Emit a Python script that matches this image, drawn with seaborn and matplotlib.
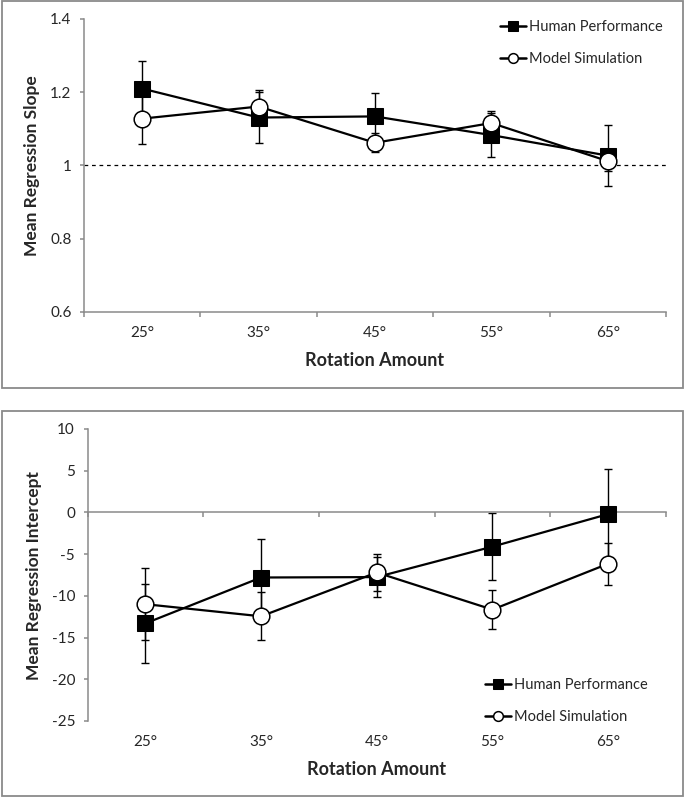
import numpy as np
import matplotlib.pyplot as plt
import seaborn as sns
from matplotlib.patches import Rectangle
from matplotlib.ticker import FuncFormatter

# data
rotations = ["25°", "35°", "45°", "55°", "65°"]

slope_human = [1.21, 1.131, 1.134, 1.083, 1.027]
slope_human_err = [0.074, 0.07, 0.063, 0.06, 0.083]
slope_model = [1.128, 1.161, 1.062, 1.116, 1.012]
slope_model_err = [0.068, 0.046, 0.026, 0.032, 0.028]

icpt_human = [-13.3, -7.8, -7.75, -4.1, -0.2]
icpt_human_err = [4.7, 4.65, 2.4, 4.0, 5.4]
icpt_model = [-11.0, -12.45, -7.2, -11.65, -6.15]
icpt_model_err = [4.3, 2.9, 2.2, 2.3, 2.5]

sns.set_style("white")
plt.rcParams['font.family'] = ['Lato', 'DejaVu Sans']
plt.rcParams['axes.unicode_minus'] = False

GRAY = '#8a8a8a'
W, H = 685, 799

fig = plt.figure(figsize=(W / 100, H / 100), dpi=100)

# panel frames
for top, bot in [(1.5, 388), (411, 796)]:
    fig.add_artist(Rectangle((1.5 / W, 1 - bot / H), (683 - 1.5) / W, (bot - top) / H,
                             transform=fig.transFigure, fill=False,
                             edgecolor=GRAY, lw=1.3))


def panel(ax, human, human_err, model, model_err, ylim, yticks, ylabel, zero_axis):
    x = np.arange(len(rotations))
    ax.errorbar(x, human, yerr=human_err, fmt='none', ecolor='black',
                elinewidth=1, capsize=3, capthick=1, zorder=1)
    ax.errorbar(x, model, yerr=model_err, fmt='none', ecolor='black',
                elinewidth=1, capsize=3, capthick=1, zorder=1)
    sns.lineplot(x=x, y=human, ax=ax, color='black', linewidth=1.6,
                 marker='s', markersize=11.5, markerfacecolor='black',
                 markeredgecolor='black', label='Human Performance', zorder=3)
    sns.lineplot(x=x, y=model, ax=ax, color='black', linewidth=1.6,
                 marker='o', markersize=12, markerfacecolor='white',
                 markeredgecolor='black', markeredgewidth=1.1,
                 label='Model Simulation', zorder=4)

    ax.set_xlim(-0.5, len(rotations) - 0.5)
    ax.set_ylim(*ylim)
    ax.set_yticks(yticks)
    ax.yaxis.set_major_formatter(FuncFormatter(lambda v, p: f'{v:g}'))
    ax.tick_params(axis='y', length=3, width=1.1, color=GRAY, pad=6,
                   labelsize=11, direction='out', left=True)

    for s in ['top', 'right']:
        ax.spines[s].set_visible(False)
    ax.spines['left'].set_color(GRAY)
    ax.spines['left'].set_linewidth(1.1)
    ax.spines['bottom'].set_color(GRAY)
    ax.spines['bottom'].set_linewidth(1.1)
    if zero_axis:
        ax.spines['bottom'].set_position(('data', 0))

    # boundary ticks on the axis line
    ax.set_xticks(np.arange(-0.5, len(rotations), 1))
    ax.tick_params(axis='x', length=3.5, width=1.1, color=GRAY,
                   direction='out', bottom=True, labelbottom=False)

    # category labels at the bottom of the plot area
    sec = ax.secondary_xaxis('bottom')
    sec.set_xticks(x, rotations)
    sec.tick_params(length=0, pad=10, labelsize=11)
    sec.spines['bottom'].set_visible(False)
    sec.set_xlabel('Rotation Amount', fontsize=13, fontweight='bold', labelpad=9)

    ax.set_ylabel(ylabel, fontsize=12.5, fontweight='bold', labelpad=7)
    ax.set_xlabel('')


ax1 = fig.add_axes([84 / W, 1 - 312 / H, 582 / W, 293 / H])
panel(ax1, slope_human, slope_human_err, slope_model, slope_model_err,
      (0.6, 1.4), [0.6, 0.8, 1.0, 1.2, 1.4], 'Mean Regression Slope', False)
ax1.axhline(1.0, color='black', lw=0.9, ls=(0, (3, 3)), zorder=0)

ax2 = fig.add_axes([87.5 / W, 1 - 721 / H, 578.5 / W, 292 / H])
panel(ax2, icpt_human, icpt_human_err, icpt_model, icpt_model_err,
      (-25, 10), [-25, -20, -15, -10, -5, 0, 5, 10], 'Mean Regression Intercept', True)

for ax, (lx, ly) in [(ax1, (500, 20)), (ax2, (485, 678))]:
    leg = ax.legend(loc='upper left', bbox_to_anchor=(lx / W, 1 - ly / H),
                    bbox_transform=fig.transFigure, frameon=False,
                    fontsize=10.5, handlelength=1.8, handletextpad=0.2,
                    labelspacing=1.25, borderpad=0, borderaxespad=0)
    for h in leg.legend_handles:
        h.set_markersize(7)
        h.set_linewidth(1.8)

plt.savefig('out.png', dpi=100)
